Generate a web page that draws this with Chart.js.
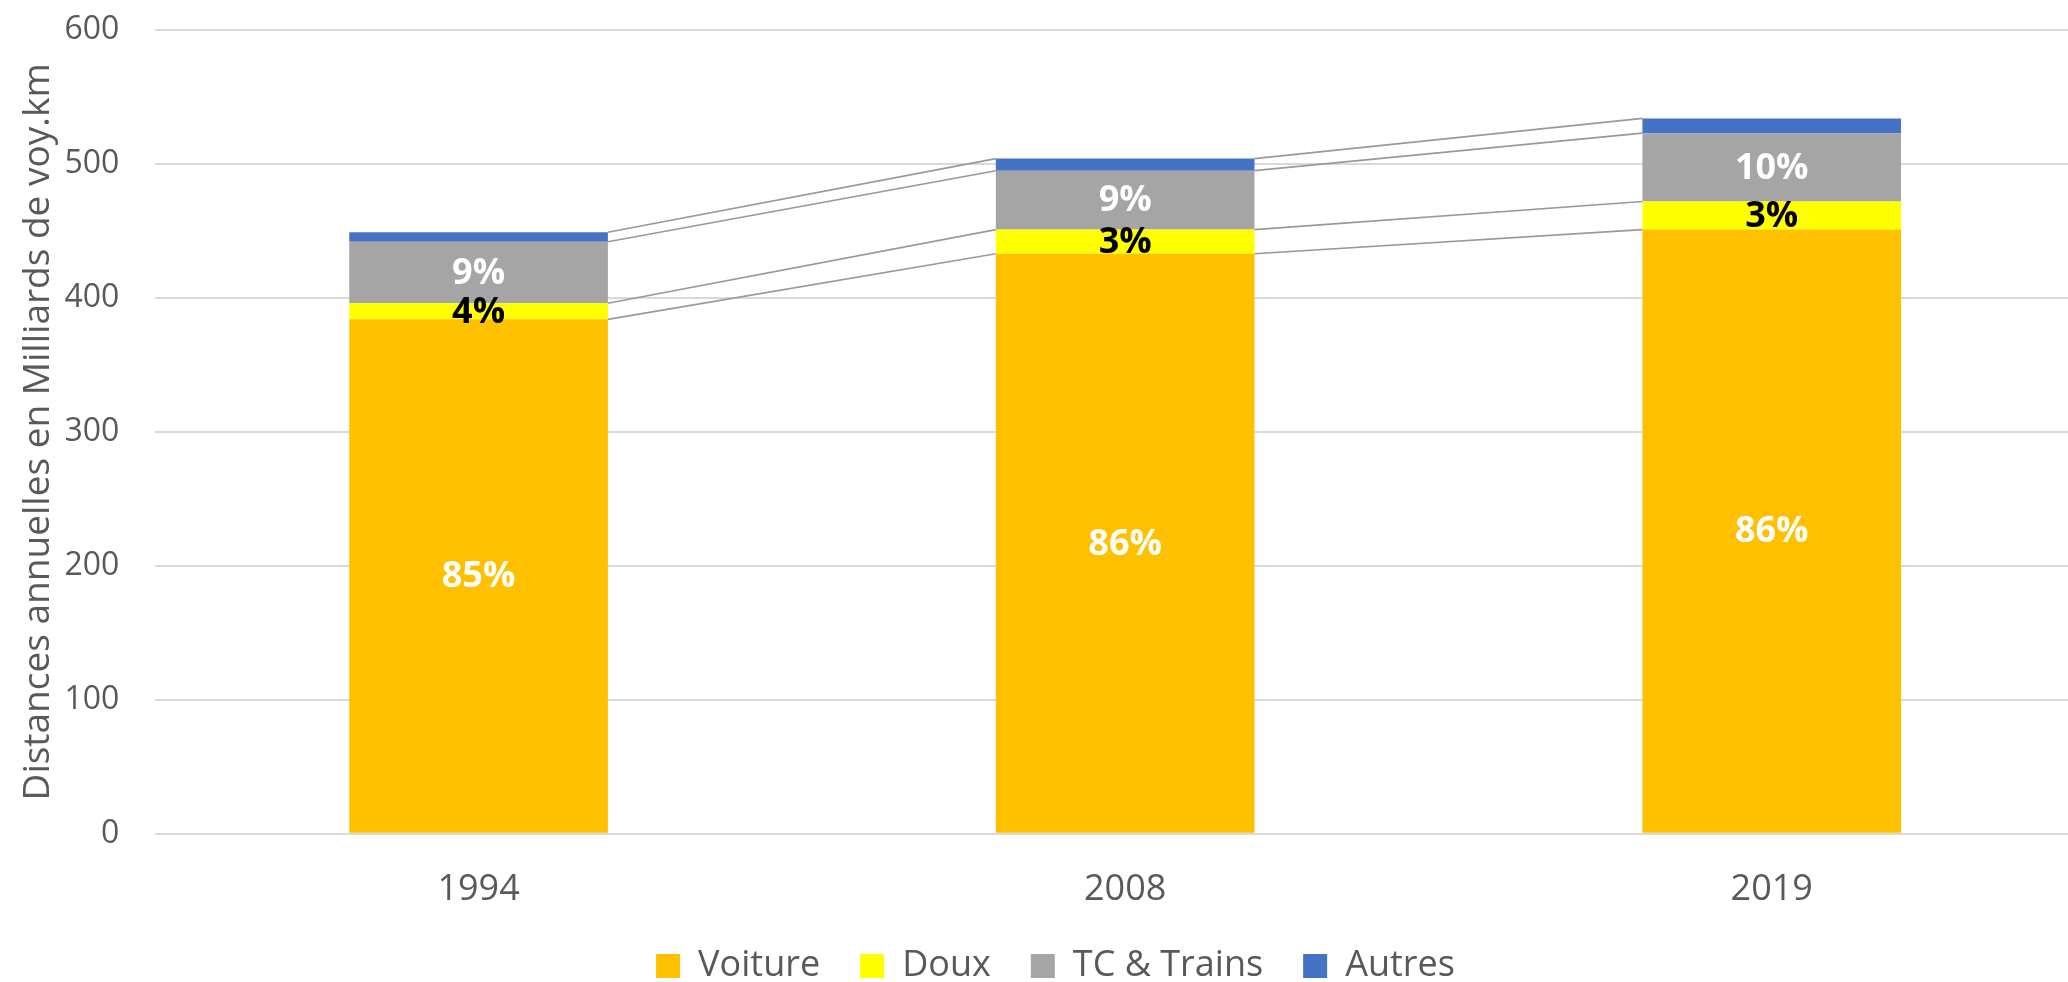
<!DOCTYPE html>
<html>
<head>
<meta charset="utf-8">
<script src="https://cdn.jsdelivr.net/npm/chart.js@4/dist/chart.umd.min.js"></script>
<style>
  html, body { margin: 0; padding: 0; background: #fff; overflow: hidden; }
  #chart_container { width: 2095px; height: 982px; }
</style>
</head>
<body>
<div id="chart_container"><canvas id="staticChart"></canvas></div>
<script>
// data (Milliards de voy.km)
var years = ["1994", "2008", "2019"];
var voiture = [384, 433, 451];
var doux = [12, 18, 21];
var tcTrains = [46, 44, 51];
var autres = [7, 9, 11];

// percentage labels as printed on the bars
var voitureLabels = ["85%", "86%", "86%"];
var douxLabels = ["4%", "3%", "3%"];
var tcLabels = ["9%", "9%", "10%"];
var autresLabels = ["", "", ""];

var yTicks = [0, 100, 200, 300, 400, 500, 600];

var FONT = "'Open Sans', sans-serif";
var TEXT_GREY = "#595959";

// thin grey lines joining the top of each segment from one bar to the next
var seriesLines = {
    id: 'seriesLines',
    beforeDatasetsDraw: function(chart) {
        var ctx = chart.ctx;
        ctx.save();
        ctx.strokeStyle = "#999999";
        ctx.lineWidth = 1.6;
        chart.data.datasets.forEach(function(ds, i) {
            var bars = chart.getDatasetMeta(i).data;
            for (var j = 0; j < bars.length - 1; j++) {
                var a = bars[j], b = bars[j + 1];
                ctx.beginPath();
                ctx.moveTo(a.x + a.width / 2, a.y);
                ctx.lineTo(b.x - b.width / 2, b.y);
                ctx.stroke();
            }
        });
        ctx.restore();
    }
};

// percent labels centred in each segment
var segmentLabels = {
    id: 'segmentLabels',
    afterDatasetsDraw: function(chart) {
        var ctx = chart.ctx;
        ctx.save();
        ctx.font = "bold 36px " + FONT;
        ctx.textAlign = "center";
        ctx.textBaseline = "middle";
        chart.data.datasets.forEach(function(ds, i) {
            var bars = chart.getDatasetMeta(i).data;
            bars.forEach(function(bar, j) {
                var txt = ds.pctLabels[j];
                if (!txt) return;
                ctx.fillStyle = ds.labelColor;
                ctx.fillText(txt, bar.x, (bar.y + bar.base) / 2 + 1);
            });
        });
        ctx.restore();
    }
};

function drawStackedChart(){
    new Chart(document.getElementById("staticChart"), {
        type: 'bar',
        data: {
            labels: years,
            datasets: [
                { label: "Voiture", backgroundColor: "#FFC000", data: voiture, pctLabels: voitureLabels, labelColor: "#ffffff" },
                { label: "Doux", backgroundColor: "#FFFF00", data: doux, pctLabels: douxLabels, labelColor: "#000000" },
                { label: "TC & Trains", backgroundColor: "#A5A5A5", data: tcTrains, pctLabels: tcLabels, labelColor: "#ffffff" },
                { label: "Autres", backgroundColor: "#4472C4", data: autres, pctLabels: autresLabels, labelColor: "#ffffff" }
            ]
        },
        options: {
            responsive: true,
            maintainAspectRatio: false,
            animation: false,
            datasets: { bar: { categoryPercentage: 1.0, barPercentage: 0.40, borderWidth: 0 } },
            layout: { padding: { top: 30, right: 0, bottom: -12, left: 16 } },
            plugins: {
                legend: {
                    position: 'bottom',
                    labels: {
                        font: { family: FONT, size: 36 },
                        color: TEXT_GREY,
                        boxWidth: 24,
                        boxHeight: 24,
                        padding: 40
                    }
                },
                tooltip: { enabled: false }
            },
            scales: {
                x: {
                    stacked: true,
                    grid: { display: false },
                    border: { display: false },
                    ticks: { font: { family: FONT, size: 36 }, color: TEXT_GREY, padding: 26 },
                    afterFit: function(scale) { scale.height -= 29; }
                },
                y: {
                    stacked: true,
                    min: 0,
                    max: 600,
                    afterBuildTicks: function(axis) {
                        axis.ticks = yTicks.map(function(v) { return { value: v }; });
                    },
                    afterFit: function(scale) {
                        scale.width -= 36;
                        scale.paddingTop = 0;
                    },
                    grid: { color: "#d9d9d9", lineWidth: 2, drawTicks: false },
                    border: { display: false },
                    ticks: { font: { family: FONT, size: 32 }, color: TEXT_GREY, padding: 36 },
                    title: {
                        display: true,
                        text: "Distances annuelles en Milliards de voy.km",
                        font: { family: FONT, size: 37 },
                        color: TEXT_GREY,
                        padding: { top: 0, bottom: 4 }
                    }
                }
            }
        },
        plugins: [seriesLines, segmentLabels]
    });
}

drawStackedChart();
</script>
</body>
</html>
